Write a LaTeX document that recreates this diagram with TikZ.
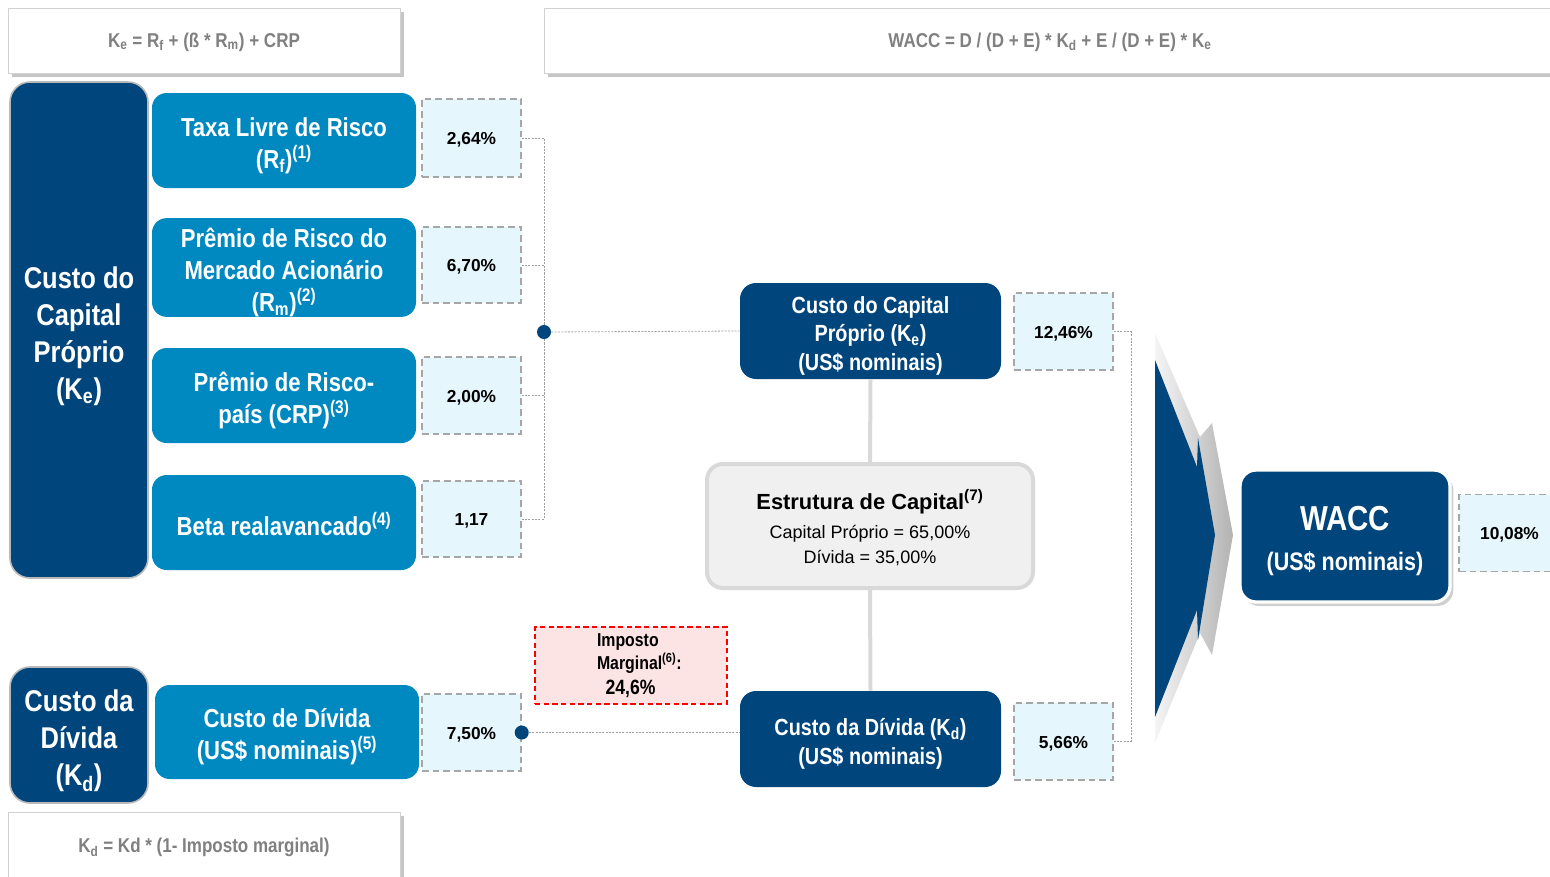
\documentclass[tikz,border=0pt]{standalone}
\usepackage{fontspec}
\setmainfont{Liberation Sans}
\newfontfamily\nar{Liberation Sans}[FakeStretch=0.85]
\usetikzlibrary{shadows}
\definecolor{dblue}{RGB}{0,69,124}
\definecolor{lblue}{RGB}{0,137,193}
\definecolor{vfill}{RGB}{229,246,253}
\definecolor{vline}{RGB}{166,166,166}
\definecolor{pinkf}{RGB}{253,228,228}
\definecolor{fgray}{RGB}{128,128,128}
\definecolor{estf}{RGB}{240,240,240}
\definecolor{estd}{RGB}{217,217,217}
\tikzset{
  wh/.style 2 args={minimum width=#1*0.75pt, minimum height=#2*0.75pt, inner sep=0pt},
  fbox/.style={draw=gray!35, fill=white, line width=0.6pt,
    drop shadow={shadow xshift=3pt, shadow yshift=-3pt, opacity=0.45, fill=gray},
    text=fgray, font=\nar\bfseries\fontsize{15}{18}\selectfont},
  bigdark/.style={fill=dblue, draw=gray!55, line width=1.2pt, rounded corners=15pt,
    text=white, align=center, font=\nar\bfseries\fontsize{22.5}{27.75}\selectfont},
  lightbox/.style={fill=lblue, rounded corners=11pt, text=white, align=center,
    font=\nar\bfseries\fontsize{19.5}{24}\selectfont},
  valbox/.style={fill=vfill, draw=vline, line width=1.1pt, dash pattern=on 5pt off 3pt,
    font=\bfseries\fontsize{13}{16}\selectfont},
  midbox/.style={fill=dblue, rounded corners=12pt, text=white, align=center,
    font=\nar\bfseries\fontsize{17.5}{21.4}\selectfont},
  conn/.style={draw=gray!75, line width=0.6pt, dash pattern=on 1.5pt off 1pt},
  dotn/.style={circle, fill=dblue, minimum size=10.5pt, inner sep=0pt},
  greyline/.style={draw=estd, line width=3pt}
}
\newcommand{\strutof}[1]{\rule{0pt}{#1}}
\begin{document}
\begin{tikzpicture}[x=0.75pt,y=-0.75pt]
\useasboundingbox (0,0) rectangle (1550,876);

% formula boxes
\node[fbox, wh={392}{65}] (fke) at (204,40.5)
  {\strutof{13pt}K\textsubscript{e} = R\textsubscript{f} + (ß * R\textsubscript{m}) + CRP};
\node[fbox, wh={1012}{65}] (fwacc) at (1050,40.5)
  {\strutof{13pt}WACC = D / (D + E) * K\textsubscript{d} + E / (D + E) * K\textsubscript{e}};
\node[fbox, wh={392}{68}] (fkd) at (204,846)
  {\strutof{13pt}K\textsubscript{d} = Kd * (1- Imposto marginal)};

% left column
\node[bigdark, wh={138}{496}] (ke) at (79,330) {\strutof{25pt}Custo do\\Capital\\Próprio\\(K\textsubscript{e})};
\node[bigdark, wh={138}{136}] (kd) at (79,735) {\strutof{25pt}Custo da\\Dívida\\(K\textsubscript{d})};

% light blue boxes
\node[lightbox, wh={264}{95}] (rf) at (284,140.5) {\strutof{22pt}Taxa Livre de Risco\\(R\textsubscript{f})\textsuperscript{(1)}};
\node[lightbox, wh={264}{95}] (rm) at (284,267.5) {\strutof{22pt}Prêmio de Risco do\\Mercado Acionário\\(R\textsubscript{m})\textsuperscript{(2)}};
\node[lightbox, wh={264}{95}] (crp) at (284,395.5) {\strutof{22pt}Prêmio de Risco-\\país (CRP)\textsuperscript{(3)}};
\node[lightbox, wh={264}{95}] (beta) at (284,522.5) {\strutof{19pt}Beta realavancado\textsuperscript{(4)}};
\node[lightbox, wh={264}{94}] (cd) at (287,732) {\strutof{22pt}Custo de Dívida\\(US\$ nominais)\textsuperscript{(5)}};

% value boxes
\node[valbox, wh={99}{78}] (v1) at (471.5,138) {\strutof{12pt}2,64\%};
\node[valbox, wh={99}{76}] (v2) at (471.5,265) {\strutof{12pt}6,70\%};
\node[valbox, wh={99}{77}] (v3) at (471.5,395.5) {\strutof{12pt}2,00\%};
\node[valbox, wh={99}{76}] (v4) at (471.5,519) {\strutof{12pt}1,17};
\node[valbox, wh={99}{77}] (v5) at (471.5,732.5) {\strutof{12pt}7,50\%};

% middle column
\node[midbox, wh={261}{96}] (cke) at (870.5,331) {\strutof{20pt}Custo do Capital\\Próprio (K\textsubscript{e})\\(US\$ nominais)};
\node[midbox, wh={261}{96}] (ckd) at (870.5,739) {\strutof{20pt}Custo da Dívida (K\textsubscript{d})\\(US\$ nominais)};
\node[fill=estf, draw=estd, line width=3pt, rounded corners=12pt, wh={326}{124}, align=center,
  font=\fontsize{13.5}{18.75}\selectfont] (est) at (870,526)
  {{\bfseries\fontsize{16.4}{18.75}\selectfont\strutof{17pt}Estrutura de Capital\textsuperscript{(7)}}\\[3pt]Capital Próprio = 65,00\%\\Dívida = 35,00\%};
\node[valbox, wh={99}{77}] (v6) at (1063.5,331.5) {\strutof{12pt}12,46\%};
\node[valbox, wh={99}{77}] (v7) at (1063.5,741.5) {\strutof{12pt}5,66\%};

% imposto
\node[fill=pinkf, draw=red, line width=1.1pt, dash pattern=on 4pt off 2.5pt, wh={192}{77},
  text width=144pt, align=left, font=\nar\bfseries\fontsize{14}{17.25}\selectfont] (imp) at (631,665.5)
  {\hspace*{46.5pt}Imposto\\\hspace*{46.5pt}Marginal\textsuperscript{(6)}:\\[2pt]\hspace*{53pt}{\fontsize{15.5}{17}\selectfont 24,6\%}};

% gray vertical links
\draw[greyline] (cke.south) -- (est.north);
\draw[greyline] (est.south) -- (ckd.north);

% bracket connectors
\coordinate (j1) at (544,332);
\draw[conn] (v1.east) -| (j1);
\draw[conn] (v2.east) -| (j1);
\draw[conn] (v3.east) -| (j1);
\draw[conn] (v4.east) -| (j1);
\node[dotn] (d1) at (j1) {};
\draw[conn] (d1) -- (cke.west);

\node[dotn] (d2) at (v5.east) {};
\draw[conn] (d2) -- (d2 -| ckd.west);

\coordinate (rb) at (1131,536);
\draw[conn] (v6.east) -| (rb);
\draw[conn] (v7.east) -| (rb);

% chevron
\shade[left color=gray!8, right color=gray!60]
  (1155,333) -- (1200,437) -- (1212,423) -- (1233,535) -- (1212,655) -- (1200,633) -- (1155,743) -- cycle;
\fill[dblue]
  (1155,360) -- (1197,467) -- (1198,438) -- (1215,535) -- (1198,640) -- (1197,610) -- (1155,717) -- cycle;

% WACC
\node[fill=dblue, draw=white, line width=2.5pt, rounded corners=12pt, wh={210}{132},
  drop shadow={shadow xshift=2.5pt, shadow yshift=-3pt, fill=gray!75},
  text=white, align=center, font=\nar\bfseries\fontsize{19}{30}\selectfont] (wacc) at (1345,536)
  {{\fontsize{26}{30}\selectfont\strutof{26pt}WACC}\\(US\$ nominais)};
\node[valbox, wh={101}{77}] (v8) at (1509.5,533) {\strutof{12pt}10,08\%};
\end{tikzpicture}
\end{document}
